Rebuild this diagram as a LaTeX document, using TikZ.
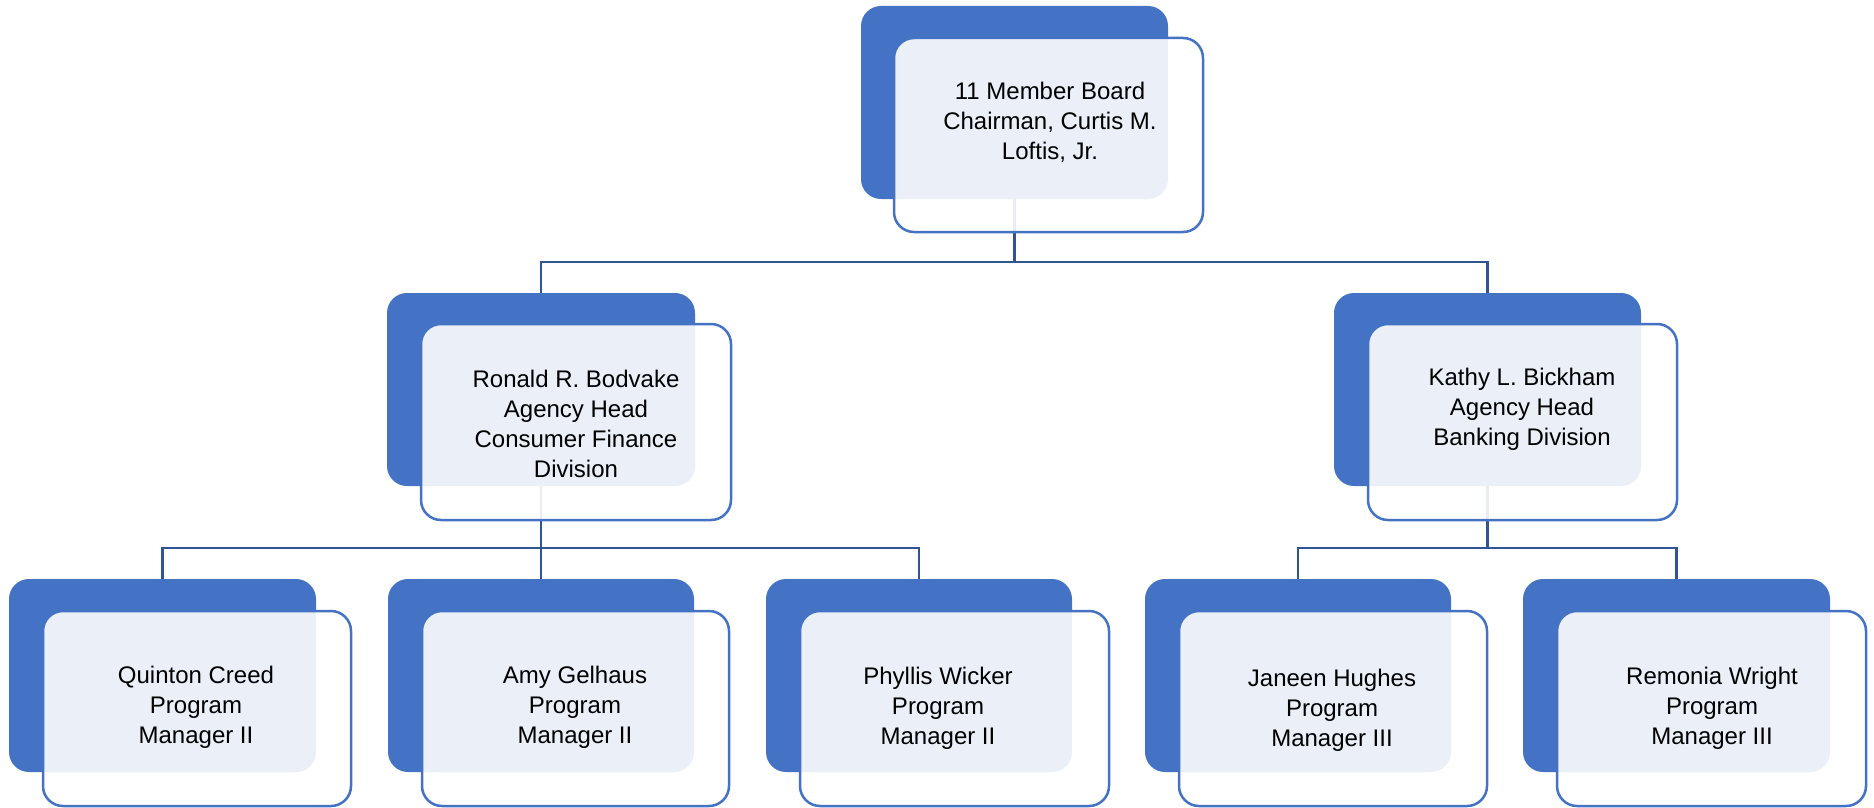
\documentclass[tikz,border=0pt]{standalone}
\usepackage{fontspec}
\setmainfont{Liberation Sans}
\definecolor{boxblue}{HTML}{4472C4}
\definecolor{connblue}{HTML}{2F5597}
\tikzset{
  darkbox/.style={fill=boxblue, draw=none, rounded corners=20pt, inner sep=0pt, outer sep=0pt},
  outbox/.style={draw=boxblue, line width=2.5pt, fill=white, fill opacity=0.89, rounded corners=20pt, inner sep=0pt, outer sep=0pt},
  lbl/.style={align=center, text=black, inner sep=0pt, font=\fontsize{24}{30}\selectfont},
  conn/.style={draw=connblue, line width=2.4pt},
}
\begin{document}
\begin{tikzpicture}[x=1pt, y=-1pt]
\useasboundingbox (0,0) rectangle (1874,808);
% dark boxes
\node[darkbox, minimum width=307pt, minimum height=193pt] (d1) at (1014.5,102.5) {};
\node[darkbox, minimum width=308pt, minimum height=193pt] (d2) at (541,389.5) {};
\node[darkbox, minimum width=307pt, minimum height=193pt] (d3) at (1487.5,389.5) {};
\node[darkbox, minimum width=307pt, minimum height=193pt] (d4) at (162.5,675.5) {};
\node[darkbox, minimum width=306pt, minimum height=193pt] (d5) at (541,675.5) {};
\node[darkbox, minimum width=306pt, minimum height=193pt] (d6) at (919,675.5) {};
\node[darkbox, minimum width=306pt, minimum height=193pt] (d7) at (1298,675.5) {};
\node[darkbox, minimum width=307pt, minimum height=193pt] (d8) at (1676.5,675.5) {};
% connectors
\coordinate (bus1) at (0,262);
\coordinate (bus2) at (0,548);
\draw[conn] (d1.south) -- (d1.south |- bus1) -| (d2.north);
\draw[conn] (d1.south |- bus1) -| (d3.north);
\draw[conn] (d2.south) -- (d2.south |- bus2) -| (d4.north);
\draw[conn] (d2.south |- bus2) -- (d5.north);
\draw[conn] (d2.south |- bus2) -| (d6.north);
\draw[conn] (d3.south) -- (d3.south |- bus2) -| (d7.north);
\draw[conn] (d3.south |- bus2) -| (d8.north);
% outline boxes
\node[outbox, minimum width=309pt, minimum height=194pt] (o1) at (1048.5,135) {};
\node[outbox, minimum width=310pt, minimum height=196pt] (o2) at (576,422) {};
\node[outbox, minimum width=309pt, minimum height=196pt] (o3) at (1522.5,422) {};
\node[outbox, minimum width=308pt, minimum height=195pt] (o4) at (197,708.5) {};
\node[outbox, minimum width=307pt, minimum height=195pt] (o5) at (575.5,708.5) {};
\node[outbox, minimum width=309pt, minimum height=195pt] (o6) at (954.5,708.5) {};
\node[outbox, minimum width=308pt, minimum height=195pt] (o7) at (1333,708.5) {};
\node[outbox, minimum width=309pt, minimum height=195pt] (o8) at (1711.5,708.5) {};
% labels
\node[lbl] (t1) at (1050,122) {11 Member Board\\Chairman, Curtis M.\\Loftis, Jr.};
\node[lbl] (t2) at (576,424) {Ronald R. Bodvake\\Agency Head\\Consumer Finance\\Division};
\node[lbl] (t3) at (1522,409) {Kathy L. Bickham\\Agency Head\\Banking Division};
\node[lbl] (t4) at (196,707) {Quinton Creed\\Program\\Manager II};
\node[lbl] (t5) at (575,707) {Amy Gelhaus\\Program\\Manager II};
\node[lbl] (t6) at (938,708) {Phyllis Wicker\\Program\\Manager II};
\node[lbl] (t7) at (1332,710) {Janeen Hughes\\Program\\Manager III};
\node[lbl] (t8) at (1712,708) {Remonia Wright\\Program\\Manager III};
\end{tikzpicture}
\end{document}
